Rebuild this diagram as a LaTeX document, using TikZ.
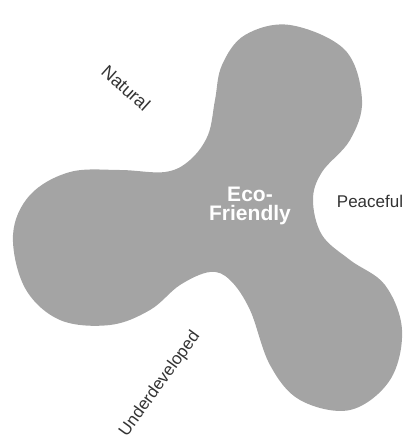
\documentclass[tikz,border=0pt]{standalone}
\usepackage{fontspec}
\setmainfont{Liberation Sans}
\definecolor{blobgray}{HTML}{A4A4A4}
\definecolor{labelgray}{HTML}{333333}
\begin{document}
\begin{tikzpicture}[x=1pt,y=-1pt,
  label/.style={text=labelgray,font=\fontsize{17}{19}\selectfont,inner sep=0pt},
  center/.style={text=white,font=\fontsize{21}{23}\selectfont\bfseries,align=center,inner sep=0pt}]
\useasboundingbox (0,0) rectangle (408,447);
\fill[blobgray] plot[smooth cycle,tension=0.6] coordinates {
 (290,25) (345,50) (362,100) (350,140) (322,172) (313,200) (322,235) (350,260)
 (385,285) (402,330) (390,380) (350,410) (300,400) (270,365) (250,310) (230,280)
 (210,272) (180,285) (150,310) (110,325) (60,320) (25,288) (13,235) (30,195)
 (70,172) (120,170) (165,172) (190,160) (208,135) (215,100) (222,65) (245,35)};
\node[center] (eco) at (250,206) {Eco-\\[-4pt]Friendly};
\node[label,rotate=-42,font=\fontsize{18}{20}\selectfont] (natural) at (126,88) {Natural};
\node[label] (peaceful) at (370,201) {Peaceful};
\node[label,rotate=54] (under) at (160,384) {Underdeveloped};
\end{tikzpicture}
\end{document}
